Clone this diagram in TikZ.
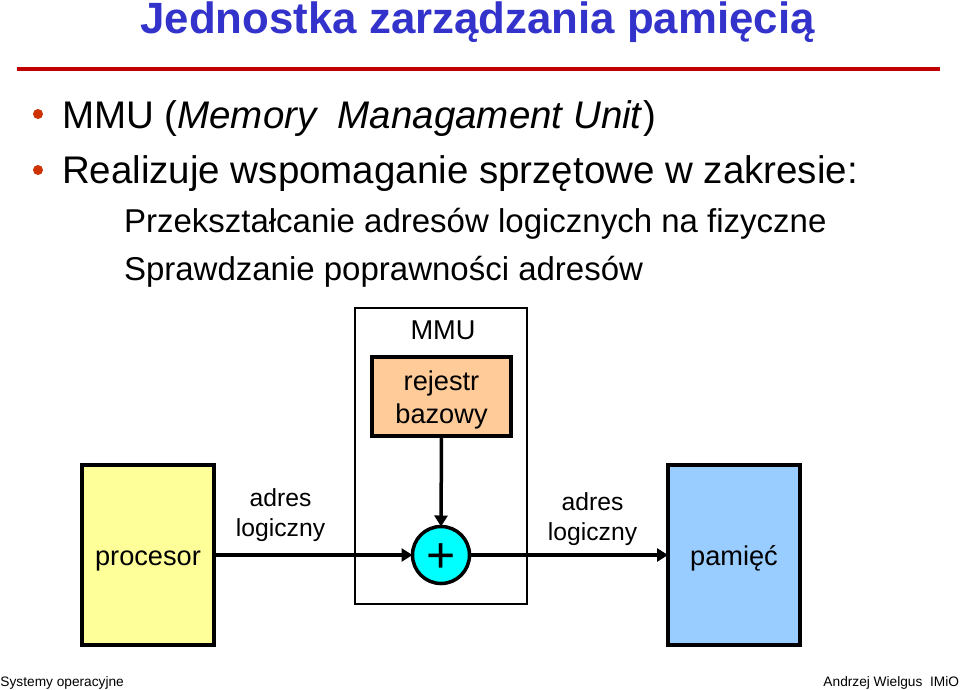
\documentclass[tikz,border=0pt]{standalone}
\usepackage{fontspec}
\setmainfont{Liberation Sans}
\usetikzlibrary{arrows.meta}
\definecolor{titleblue}{HTML}{3333CC}
\definecolor{rulered}{HTML}{C00000}
\definecolor{bulletred}{HTML}{CC3300}
\definecolor{procyellow}{HTML}{FFFF99}
\definecolor{memblue}{HTML}{99CCFF}
\definecolor{regorange}{HTML}{FFCC99}
\definecolor{sumcyan}{HTML}{00FFFF}
\tikzset{
  x=1pt,y=-1pt,
  txt/.style={anchor=base west,inner sep=0,outer sep=0},
  ctr/.style={anchor=base,inner sep=0,outer sep=0,align=center,font=\fontsize{27.2}{32}\selectfont},
  lab/.style={anchor=base,inner sep=0,outer sep=0,align=center,font=\fontsize{24.7}{30}\selectfont},
  body/.style={txt,font=\fontsize{38.5}{42}\selectfont},
  sub/.style={txt,font=\fontsize{33}{36}\selectfont},
  foot/.style={inner sep=0,outer sep=0,font=\fontsize{13.7}{17}\selectfont},
  bul/.style={circle,fill=bulletred,inner sep=0,minimum size=10pt},
  thick box/.style={draw=black,line width=3.5pt,minimum width=#1,inner sep=0,outer sep=0},
  conn/.style={line width=3.5pt,-{Triangle[length=11pt,width=13pt]}},
}
\begin{document}
\begin{tikzpicture}
\useasboundingbox (0,0) rectangle (960,689);
\fill[white] (0,0) rectangle (960,689);
% title and rule
\node[anchor=base,inner sep=0,text=titleblue,font=\fontsize{43.8}{48}\selectfont\bfseries] (title) at (477.5,33) {Jednostka zarządzania pamięcią};
\coordinate (ruleL) at (17,69);
\coordinate (ruleR) at (940,69);
\draw[rulered,line width=4.5pt] (ruleL) -- (ruleR);
% bullets
\node[bul] (b1) at (38,114) {};
\node[bul] (b2) at (38,170) {};
\node[body] (l1) at (62,128) {MMU (\textit{Memory\ \ Managament Unit})};
\node[body] (l2) at (62,183) {Realizuje wspomaganie sprzętowe w zakresie:};
\node[sub] (l3) at (124,232) {Przekształcanie adresów logicznych na fizyczne};
\node[sub] (l4) at (124,280) {Sprawdzanie poprawności adresów};
% diagram
\node[draw=black,line width=2pt,minimum width=172pt,minimum height=296pt,inner sep=0,outer sep=0] (mmu) at (441,456) {};
\node[ctr] (mmul) at (443,339) {MMU};
\node[thick box=139pt,fill=regorange,minimum height=79pt] (reg) at (441.5,396.5) {};
\node[ctr] (rej) at (441.5,390) {rejestr};
\node[ctr] (baz) at (441.5,423) {bazowy};
\node[thick box=132pt,fill=procyellow,minimum height=180pt] (proc) at (148,555) {};
\node[ctr] (procl) at (148,565) {procesor};
\node[thick box=132pt,fill=memblue,minimum height=180pt] (mem) at (734,555) {};
\node[ctr] (meml) at (734,565) {pamięć};
\node[circle,draw=black,line width=3.5pt,fill=sumcyan,minimum size=57pt,inner sep=0,outer sep=0] (sum) at (441,555) {};
\node[anchor=base,inner sep=0,font=\fontsize{50}{52}\selectfont] (plus) at (441,572) {+};
\node[lab] (a1) at (280.5,506) {adres};
\node[lab] (a2) at (280.5,536) {logiczny};
\node[lab] (a3) at (592.5,510) {adres};
\node[lab] (a4) at (592.5,540) {logiczny};
\draw[conn] (proc.east) -- (sum.west);
\draw[conn] (sum.east) -- (mem.west);
\draw[conn] (reg.south) -- (sum.north);
% footer
\node[foot,anchor=base west] (fl) at (0.5,686) {Systemy operacyjne};
\node[foot,anchor=base east] (fr) at (959,686) {Andrzej Wielgus\ \ IMiO};
\end{tikzpicture}
\end{document}
